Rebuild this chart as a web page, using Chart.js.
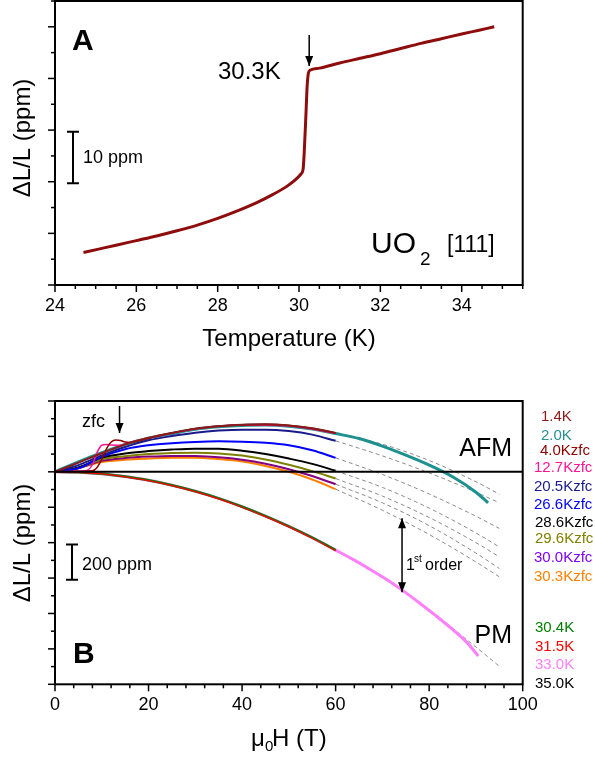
<!DOCTYPE html>
<html>
<head>
<meta charset="utf-8">
<script src="https://cdn.jsdelivr.net/npm/chart.js@4.4.0/dist/chart.umd.min.js"></script>
<style>
  html, body { margin: 0; padding: 0; background: #fff; }
  #wrap { position: relative; width: 595px; height: 759px; }
  canvas { position: absolute; left: 0; }
  #chartA { top: 0; width: 595px; height: 360px; }
  #chartB { top: 360px; width: 595px; height: 399px; }
</style>
</head>
<body>
<div id="wrap">
  <canvas id="chartA" width="595" height="360"></canvas>
  <canvas id="chartB" width="595" height="399"></canvas>
</div>
<script>
const FONT = "'Liberation Sans', Arial, Helvetica, sans-serif";

// ---- Panel A: thermal expansion across the transition ----
const tempA = [24.7, 25.1, 25.5, 26.0, 26.5, 27.0, 27.5, 28.0, 28.5, 29.0, 29.35, 29.7, 29.9, 30.05, 30.1,
               30.13, 30.17, 30.2, 30.23, 30.27, 30.5, 31.0, 31.5, 32.0, 32.5, 33.0, 33.5, 34.0, 34.4, 34.8];
const dlA = [6.3, 7.0, 7.7, 8.6, 9.5, 10.5, 11.6, 12.9, 14.4, 16.1, 17.5, 19.1, 20.3, 21.5, 22.4,
             26.0, 33.0, 38.5, 41.0, 41.6, 42.0, 43.0, 43.9, 44.8, 45.8, 46.8, 47.7, 48.6, 49.3, 50.0];

// ---- Panel B: magnetostriction vs field ----
const fieldAFM = [0, 5, 10, 15, 20, 25, 30, 35, 40, 45, 50, 55, 60];
const dl1p4K  = [0, 52, 105, 155, 192, 220, 244, 258, 266, 268, 262, 246, 220];
const dl20p5K = [0, 38, 92, 140, 178, 202, 221, 233, 238, 238, 230, 210, 175];
const dl26p6K = [0, 20, 85, 128, 150, 162, 169, 172, 170, 164, 150, 122, 79];
const dl28p6K = [0, 25, 80, 104, 117, 126, 131, 130, 119, 101, 75, 45, 6];
const dl29p6K = [0, 22, 70, 88, 100, 107, 108, 104, 92, 70, 40, 4, -38];
const dl30p0K = [0, 20, 62, 78, 86, 90, 89, 82, 68, 46, 15, -24, -70];
const dl30p3K = [0, 22, 56, 68, 75, 80, 80, 72, 58, 33, 0, -43, -98];

const field2p0K = [0, 5, 10, 15, 20, 25, 30, 35, 40, 45, 50, 55, 60, 65, 70, 75, 80, 85, 90, 92.6];
const dl2p0K = [0, 56, 108, 155, 190, 216, 240, 254, 262, 264, 258, 242, 216, 188, 145, 94, 38, -28, -115, -175];

const field4p0K = [0, 3, 6, 8, 9, 10, 11, 12, 13, 14, 15, 16, 17, 18, 20, 25, 30, 35, 40, 45, 50, 55, 60];
const dl4p0K = [0, 2, 3, 6, 25, 70, 130, 168, 180, 177, 168, 166, 170, 176, 190, 219, 243, 257, 265, 267, 261, 245, 219];

const field12p7K = [0, 3, 6, 7, 8, 9, 10, 11, 12, 14, 16, 20, 30, 40, 50, 60];
const dl12p7K = [0, 2, 5, 10, 40, 110, 150, 155, 152, 150, 165, 190, 242, 264, 259, 218];

const fieldPM = [0, 5, 10, 15, 20, 25, 30, 35, 40, 45, 50, 55, 60];
const dl30p4K = [0, -2, -11, -27, -48, -76, -110, -150, -197, -250, -308, -372, -442];
const dl31p5K = [0, -3, -12, -28, -50, -78, -112, -153, -200, -253, -311, -375, -445];

const field33p0K = [0, 5, 10, 15, 20, 25, 30, 35, 40, 45, 50, 55, 60, 64, 67.5, 71, 74, 78, 81.5, 85, 88, 90.5];
const dl33p0K = [0, -2, -11, -27, -48, -76, -110, -150, -197, -250, -308, -372, -442, -499, -553, -610, -664, -742, -814, -890, -962, -1040];

// extrapolated (dashed) continuations
const fieldDash = [60, 70, 80, 90, 95];
const dash1p4K  = [220, 156, 64, -56, -126];
const dash20p5K = [175, 90, -6, -115, -175];
const dash26p6K = [79, -15, -125, -251, -320];
const dash28p6K = [6, -88, -205, -345, -424];
const dash29p6K = [-38, -137, -258, -400, -480];
const dash30p0K = [-70, -175, -304, -459, -546];
const dash30p3K = [-98, -217, -354, -509, -593];
const dashPM    = [-442, -598, -780, -990, -1098];

const zeroField = [0, 100];
const zeroLine = [0, 0];

const bLabels = ['1.4K', '2.0K', '4.0Kzfc', '12.7Kzfc', '20.5Kzfc', '26.6Kzfc', '28.6Kzfc',
                 '29.6Kzfc', '30.0Kzfc', '30.3Kzfc', '30.4K', '31.5K', '33.0K', '35.0K'];
const bLabelColors = ['#8B1A1A', '#2A9090', '#8B0000', '#FF1493', '#1A1A8C', '#0000FF', '#000000',
                      '#808000', '#8000FF', '#FF8000', '#008000', '#FF0000', '#FF80FF', '#000000'];

function pts(xs, ys) {
    return xs.map((x, i) => ({ x: x, y: ys[i] }));
}

function isMajor(v, step) {
    const r = v / step;
    return Math.abs(r - Math.round(r)) < 1e-6;
}

// frame round the plot and outward ticks (major longer than minor)
function frameAndTicks(chart, xMajor, yMajor) {
    const { ctx, chartArea: a, scales: { x, y } } = chart;
    ctx.save();
    ctx.strokeStyle = '#000';
    ctx.lineWidth = 2;
    ctx.strokeRect(a.left, a.top, a.right - a.left, a.bottom - a.top);
    ctx.lineWidth = 1.5;
    x.ticks.forEach(t => {
        const px = x.getPixelForValue(t.value);
        ctx.beginPath();
        ctx.moveTo(px, a.bottom);
        ctx.lineTo(px, a.bottom + (isMajor(t.value, xMajor) ? 7 : 4));
        ctx.stroke();
    });
    y.ticks.forEach(t => {
        const py = y.getPixelForValue(t.value);
        ctx.beginPath();
        ctx.moveTo(a.left, py);
        ctx.lineTo(a.left - (isMajor(t.value, yMajor) ? 7 : 4), py);
        ctx.stroke();
    });
    ctx.restore();
}

function text(ctx, str, x, y, size, opts) {
    opts = opts || {};
    ctx.font = (opts.bold ? 'bold ' : '') + size + 'px ' + FONT;
    ctx.fillStyle = opts.color || '#000';
    ctx.textAlign = opts.align || 'left';
    ctx.textBaseline = opts.baseline || 'middle';
    ctx.fillText(str, x, y);
}

function head(ctx, x, y, dir) {
    ctx.beginPath();
    ctx.moveTo(x, y);
    ctx.lineTo(x - 4, y - dir * 10);
    ctx.lineTo(x + 4, y - dir * 10);
    ctx.closePath();
    ctx.fill();
}

function arrow(ctx, x, y1, y2, both) {
    ctx.save();
    ctx.strokeStyle = '#000';
    ctx.fillStyle = '#000';
    ctx.lineWidth = 1.5;
    ctx.beginPath();
    ctx.moveTo(x, y1);
    ctx.lineTo(x, y2);
    ctx.stroke();
    head(ctx, x, y2, 1);
    if (both) head(ctx, x, y1, -1);
    ctx.restore();
}

function scaleBar(ctx, x, yTop, yBot) {
    ctx.save();
    ctx.strokeStyle = '#000';
    ctx.lineWidth = 2;
    ctx.beginPath();
    ctx.moveTo(x, yTop); ctx.lineTo(x, yBot);
    ctx.moveTo(x - 6, yTop); ctx.lineTo(x + 6, yTop);
    ctx.moveTo(x - 6, yBot); ctx.lineTo(x + 6, yBot);
    ctx.stroke();
    ctx.restore();
}

function yTitle(ctx, cx, cy) {
    ctx.save();
    ctx.translate(cx, cy);
    ctx.rotate(-Math.PI / 2);
    text(ctx, 'ΔL/L (ppm)', 0, 0, 24, { align: 'center' });
    ctx.restore();
}

const decorA = {
    id: 'decorA',
    afterDraw(chart) {
        const { ctx, scales: { x, y } } = chart;
        frameAndTicks(chart, 2, 10);
        ctx.save();
        yTitle(ctx, 23, 138);
        text(ctx, 'Temperature (K)', 289, 339, 24, { align: 'center' });
        text(ctx, 'A', 72, 50, 30, { bold: true, baseline: 'alphabetic' });
        text(ctx, '30.3K', 218, 72, 24);
        arrow(ctx, x.getPixelForValue(30.25), 35, 66, false);
        text(ctx, 'UO', 371, 253, 30, { baseline: 'alphabetic' });
        text(ctx, '2', 420, 265, 19, { baseline: 'alphabetic' });
        text(ctx, '[111]', 447, 252, 23, { baseline: 'alphabetic' });
        scaleBar(ctx, 73, y.getPixelForValue(29.7), y.getPixelForValue(19.7));
        text(ctx, '10 ppm', 83, 158, 18);
        ctx.restore();
    }
};

const labelPos = [[541, 57], [541, 76], [540, 91], [534, 108], [534, 127], [534, 145], [535, 163],
                  [535, 179], [534, 198], [534, 217], [535, 268], [535, 287], [535, 305], [535, 324]];

const decorB = {
    id: 'decorB',
    afterDraw(chart) {
        const { ctx, scales: { x, y } } = chart;
        frameAndTicks(chart, 20, 200);
        ctx.save();
        yTitle(ctx, 23, 183);
        // μ0H (T)
        text(ctx, 'μ', 251, 386, 24, { baseline: 'alphabetic' });
        text(ctx, '0', 265, 391, 15, { baseline: 'alphabetic' });
        text(ctx, 'H (T)', 272, 386, 24, { baseline: 'alphabetic' });

        text(ctx, 'zfc', 82, 62, 18);
        arrow(ctx, x.getPixelForValue(13.8), 46, 73, false);
        text(ctx, 'AFM', 512, 96, 25, { align: 'right', baseline: 'alphabetic' });
        text(ctx, 'PM', 512, 283, 25, { align: 'right', baseline: 'alphabetic' });
        text(ctx, 'B', 73, 303, 30, { bold: true, baseline: 'alphabetic' });

        scaleBar(ctx, 72, y.getPixelForValue(-410), y.getPixelForValue(-610));
        text(ctx, '200 ppm', 82, 205, 18);

        arrow(ctx, x.getPixelForValue(74.2), y.getPixelForValue(-262), y.getPixelForValue(-680), true);
        text(ctx, '1', 406, 206, 16);
        text(ctx, 'st', 414, 199, 10);
        text(ctx, 'order', 425, 206, 16);

        bLabels.forEach((lab, i) => {
            text(ctx, lab, labelPos[i][0], labelPos[i][1], 15, { color: bLabelColors[i] });
        });
        ctx.restore();
    }
};

function axisX(min, max, step, major, height) {
    return {
        type: 'linear', min: min, max: max,
        grid: { display: false, drawTicks: false },
        border: { display: false },
        ticks: {
            stepSize: step, maxTicksLimit: 1000, autoSkip: false, maxRotation: 0, minRotation: 0,
            padding: 10, color: '#000', font: { family: FONT, size: 18 },
            callback: v => isMajor(v, major) ? v : ''
        },
        afterFit: s => { s.height = height; }
    };
}

function axisY(min, max, step) {
    return {
        type: 'linear', min: min, max: max,
        grid: { display: false, drawTicks: false },
        border: { display: false },
        ticks: { display: false, stepSize: step, maxTicksLimit: 1000 },
        afterFit: s => { s.width = 55; }
    };
}

const baseOpts = {
    responsive: false,
    animation: false,
    plugins: { legend: { display: false }, tooltip: { enabled: false } },
    elements: { point: { radius: 0 } }
};

new Chart(document.getElementById('chartA'), {
    type: 'line',
    data: {
        datasets: [{
            data: pts(tempA, dlA),
            borderColor: '#8E0C0C',
            borderWidth: 3,
            cubicInterpolationMode: 'monotone'
        }]
    },
    options: Object.assign({}, baseOpts, {
        layout: { padding: { left: 0, top: 1, right: 72.3, bottom: 0 } },
        scales: { x: axisX(24, 35.5, 0.5, 2, 75), y: axisY(0, 55, 5) }
    }),
    plugins: [decorA]
});

function curve(xs, ys, color, width, order, dashed) {
    return {
        data: pts(xs, ys),
        borderColor: color,
        borderWidth: width,
        borderDash: dashed ? [4, 3] : [],
        order: order,
        cubicInterpolationMode: 'monotone'
    };
}

const GREY = '#8c8c8c';

new Chart(document.getElementById('chartB'), {
    type: 'line',
    data: {
        datasets: [
            curve(zeroField, zeroLine, '#000', 2, 0),
            curve(fieldAFM, dl1p4K, '#8B1A1A', 2, 1),
            curve(field4p0K, dl4p0K, '#8B0000', 1.5, 2),
            curve(field12p7K, dl12p7K, '#FF1493', 1.5, 3),
            curve(fieldAFM, dl20p5K, '#1A1A8C', 2, 3),
            curve(fieldAFM, dl26p6K, '#0000FF', 2, 3),
            curve(fieldAFM, dl28p6K, '#000000', 2, 3),
            curve(fieldAFM, dl29p6K, '#808000', 2, 3),
            curve(fieldAFM, dl30p0K, '#800080', 2, 3),
            curve(fieldAFM, dl30p3K, '#FF8000', 2, 4),
            curve(fieldPM, dl31p5K, '#FF0000', 1.2, 3),
            curve(fieldPM, dl30p4K, '#008000', 2.5, 4),
            curve(field2p0K, dl2p0K, '#1E9090', 3, 6),
            curve(field33p0K, dl33p0K, '#FF80FF', 3, 6),
            curve(fieldDash, dash1p4K, GREY, 1, 10, true),
            curve(fieldDash, dash20p5K, GREY, 1, 10, true),
            curve(fieldDash, dash26p6K, GREY, 1, 10, true),
            curve(fieldDash, dash28p6K, GREY, 1, 10, true),
            curve(fieldDash, dash29p6K, GREY, 1, 10, true),
            curve(fieldDash, dash30p0K, GREY, 1, 10, true),
            curve(fieldDash, dash30p3K, GREY, 1, 10, true),
            curve(fieldDash, dashPM, GREY, 1, 10, true)
        ]
    },
    options: Object.assign({}, baseOpts, {
        layout: { padding: { left: 0, top: 41, right: 72.3, bottom: 0 } },
        scales: { x: axisX(0, 100, 4, 20, 74.7), y: axisY(-1200, 400, 100) }
    }),
    plugins: [decorB]
});
</script>
</body>
</html>
